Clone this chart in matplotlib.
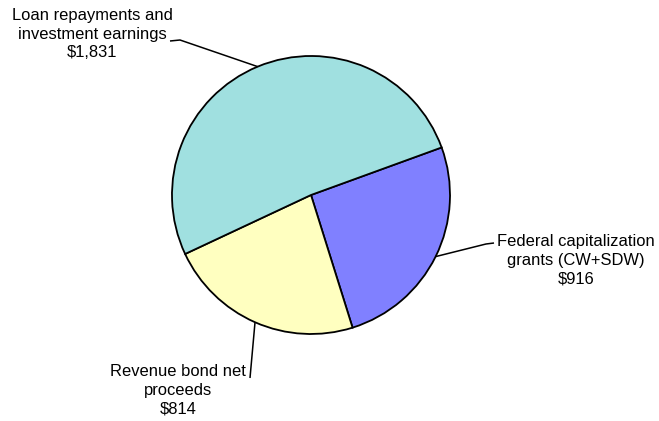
import numpy as np
import matplotlib
matplotlib.use("Agg")
import matplotlib.pyplot as plt

plt.rcParams['font.family'] = ['Liberation Sans', 'DejaVu Sans']

labels = ["Federal capitalization\ngrants (CW+SDW)\n$916",
          "Revenue bond net\nproceeds\n$814",
          "Loan repayments and\ninvestment earnings\n$1,831"]
values = [916, 814, 1831]
colors = ["#8080FF", "#FFFFC0", "#A0E0E0"]

W, H = 659, 421
fig = plt.figure(figsize=(W / 100, H / 100), dpi=100)
ax = fig.add_axes([0, 0, 1, 1])

cx, cy, r = 311, H - 195, 139
wedges, _ = ax.pie(values, colors=colors, startangle=20, counterclock=False,
                   center=(cx, cy), radius=r, frame=True,
                   wedgeprops=dict(edgecolor='black', linewidth=1.3))
ax.set_xlim(0, W)
ax.set_ylim(0, H)
ax.set_aspect('equal')
ax.axis('off')

# label text positions (pixel coords, y from top) and leader line waypoints
text_pos = [(576, 260), (178, 390), (92, 34)]
elbows = [[(494, 243), (486, 244)], [(250, 378)], [(170, 41), (180, 40)]]

for w, lab, tp, el in zip(wedges, labels, text_pos, elbows):
    mid = np.deg2rad((w.theta1 + w.theta2) / 2)
    px, py = cx + r * np.cos(mid), cy + r * np.sin(mid)
    xs = [p[0] for p in el] + [px]
    ys = [H - p[1] for p in el] + [py]
    ax.plot(xs, ys, color='black', lw=1.1, solid_capstyle='butt')
    ax.text(tp[0], H - tp[1], lab, ha='center', va='center', fontsize=11.9,
            linespacing=1.32, color='black')

fig.savefig("out.png", dpi=100)
